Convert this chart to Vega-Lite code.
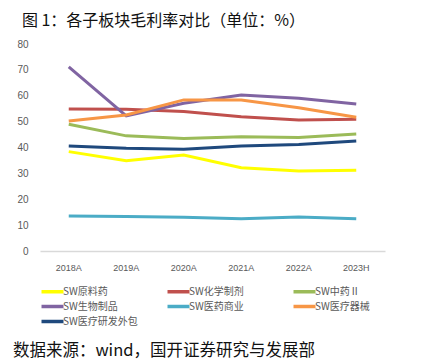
{
  "$schema": "https://vega.github.io/schema/vega-lite/v6.json",
  "padding": {"left": 12, "top": 13, "right": 5, "bottom": 2},
  "background": "white",
  "title": {"text": "数据来源：wind，国开证券研究与发展部", "orient": "bottom", "anchor": "start", "font": "Noto Sans CJK SC", "fontSize": 16.5, "fontWeight": "normal", "color": "#111111", "offset": 14, "dx": -4},
  "datasets": {
    "gm": [
      {"year": "2018A", "sector": "SW原料药", "v": 38.4},
      {"year": "2019A", "sector": "SW原料药", "v": 34.9},
      {"year": "2020A", "sector": "SW原料药", "v": 37.1},
      {"year": "2021A", "sector": "SW原料药", "v": 32.2},
      {"year": "2022A", "sector": "SW原料药", "v": 30.9},
      {"year": "2023H", "sector": "SW原料药", "v": 31.2},
      {"year": "2018A", "sector": "SW化学制剂", "v": 54.9},
      {"year": "2019A", "sector": "SW化学制剂", "v": 54.8},
      {"year": "2020A", "sector": "SW化学制剂", "v": 53.9},
      {"year": "2021A", "sector": "SW化学制剂", "v": 51.9},
      {"year": "2022A", "sector": "SW化学制剂", "v": 50.6},
      {"year": "2023H", "sector": "SW化学制剂", "v": 50.9},
      {"year": "2018A", "sector": "SW中药Ⅱ", "v": 49.0},
      {"year": "2019A", "sector": "SW中药Ⅱ", "v": 44.5},
      {"year": "2020A", "sector": "SW中药Ⅱ", "v": 43.5},
      {"year": "2021A", "sector": "SW中药Ⅱ", "v": 44.2},
      {"year": "2022A", "sector": "SW中药Ⅱ", "v": 43.9},
      {"year": "2023H", "sector": "SW中药Ⅱ", "v": 45.2},
      {"year": "2018A", "sector": "SW生物制品", "v": 71.2},
      {"year": "2019A", "sector": "SW生物制品", "v": 52.2},
      {"year": "2020A", "sector": "SW生物制品", "v": 57.1},
      {"year": "2021A", "sector": "SW生物制品", "v": 60.3},
      {"year": "2022A", "sector": "SW生物制品", "v": 59.0},
      {"year": "2023H", "sector": "SW生物制品", "v": 56.8},
      {"year": "2018A", "sector": "SW医药商业", "v": 13.5},
      {"year": "2019A", "sector": "SW医药商业", "v": 13.3},
      {"year": "2020A", "sector": "SW医药商业", "v": 13.0},
      {"year": "2021A", "sector": "SW医药商业", "v": 12.5},
      {"year": "2022A", "sector": "SW医药商业", "v": 13.1},
      {"year": "2023H", "sector": "SW医药商业", "v": 12.5},
      {"year": "2018A", "sector": "SW医疗器械", "v": 50.2},
      {"year": "2019A", "sector": "SW医疗器械", "v": 52.6},
      {"year": "2020A", "sector": "SW医疗器械", "v": 58.4},
      {"year": "2021A", "sector": "SW医疗器械", "v": 58.4},
      {"year": "2022A", "sector": "SW医疗器械", "v": 55.4},
      {"year": "2023H", "sector": "SW医疗器械", "v": 51.7},
      {"year": "2018A", "sector": "SW医疗研发外包", "v": 40.6},
      {"year": "2019A", "sector": "SW医疗研发外包", "v": 39.7},
      {"year": "2020A", "sector": "SW医疗研发外包", "v": 39.3},
      {"year": "2021A", "sector": "SW医疗研发外包", "v": 40.6},
      {"year": "2022A", "sector": "SW医疗研发外包", "v": 41.2},
      {"year": "2023H", "sector": "SW医疗研发外包", "v": 42.5}
    ]
  },
  "config": {
    "view": {"stroke": null},
    "font": "Noto Sans CJK SC"
  },
  "vconcat": [
    {
      "width": 345,
      "height": 207,
      "title": {"text": "图 1：各子板块毛利率对比（单位：%）", "anchor": "start", "font": "Noto Sans CJK SC", "fontSize": 16, "fontWeight": "normal", "color": "#111111", "offset": 10, "dx": 5},
      "data": {"name": "gm"},
      "mark": {"type": "line", "strokeWidth": 3},
      "encoding": {
        "x": {
          "field": "year", "type": "nominal", "sort": null,
          "scale": {"type": "band", "paddingInner": 0, "paddingOuter": 0},
          "axis": {"title": null, "labelAngle": 0, "domainColor": "#d9d9d9", "domainWidth": 1.5, "ticks": false, "labelColor": "#595959", "labelFontSize": 9, "labelFont": "Liberation Sans", "labelPadding": 12, "grid": false}
        },
        "y": {
          "field": "v", "type": "quantitative",
          "scale": {"domain": [0, 80], "nice": false},
          "axis": {"title": null, "values": [0, 10, 20, 30, 40, 50, 60, 70, 80], "domain": false, "ticks": false, "grid": false, "labelColor": "#595959", "labelFontSize": 10, "labelFont": "Liberation Sans", "labelPadding": 12}
        },
        "color": {
          "field": "sector", "type": "nominal",
          "scale": {
            "domain": ["SW原料药", "SW化学制剂", "SW中药Ⅱ", "SW生物制品", "SW医药商业", "SW医疗器械", "SW医疗研发外包"],
            "range": ["#FFFF00", "#C0504D", "#9BBB59", "#8064A2", "#4BACC6", "#F79646", "#1F497D"]
          },
          "legend": {
            "title": null, "orient": "none", "legendX": 5, "legendY": 240,
            "direction": "horizontal", "columns": 3, "columnPadding": 22, "rowPadding": -1,
            "symbolType": "M-2,0L2,0", "symbolSize": 121, "symbolStrokeWidth": 3.5,
            "labelFontSize": 10, "labelColor": "#595959", "labelOffset": 3, "gridAlign": "all"
          }
        }
      }
    }
  ]
}
